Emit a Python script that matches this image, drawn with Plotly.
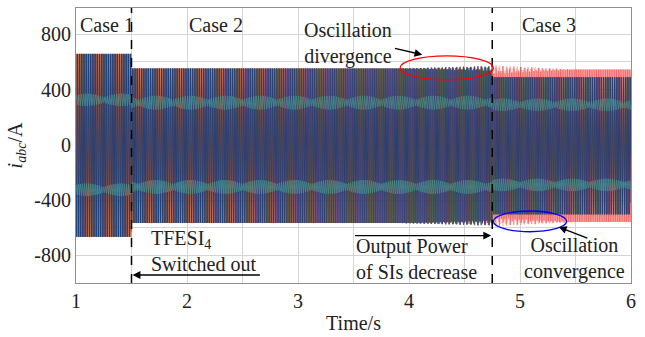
import numpy as np
import plotly.graph_objects as go

# ---------------- data ----------------
case_bounds = [1.0, 1.5, 4.75, 6.0]          # s, switching instants
case_labels = ["Case 1", "Case 2", "Case 3"]
case_label_t = [1.02, 2.26, 5.26]
amp_main = [662, 559, 496]                   # A, peak of the dense three-phase band
amp_red = [662, 559, 552]                    # A, red phase peak (pink band in case 3)
dc_offset = [-4, -7, -7]                     # A
inner_center = [325, 305, 290]               # A, centre of the teal inner band
inner_halfwidth = [45, 50, 45]               # A
div_window = [3.9, 4.75]                     # oscillation divergence
div_depth = 0.035
conv_window = [4.75, 5.5]                    # oscillation convergence
conv_depth = 0.06
phase_freqs = [49.8, 50.0, 50.2, 49.9]       # Hz, red / blue / green / orange
x_ticks = [1, 2, 3, 4, 5, 6]
y_ticks = [-800, -400, 0, 400, 800]
y_tick_text = ["-800", "-400", "0", "400", "800"]

# ---------------- waveforms ----------------
t = np.arange(1.0, 6.0, 0.0002)
idx = np.searchsorted(np.array(case_bounds[1:-1]), t, side="right")
A = np.array(amp_main, float)[idx]
Ar = np.array(amp_red, float)[idx]
off = np.array(dc_offset, float)[idx]

grow = np.clip((t - div_window[0]) / (div_window[1] - div_window[0]), 0, 1)
grow[t >= div_window[1]] = 0
decay = np.clip(1 - (t - conv_window[0]) / (conv_window[1] - conv_window[0]), 0, 1)
decay[t < conv_window[0]] = 0
rip = np.sin(2 * np.pi * 31 * t)
mod_main = 1 + div_depth * grow * rip
mod_red = 1 + div_depth * grow * rip + conv_depth * decay * rip

fr, fb, fg, fo = [2 * np.pi * f for f in phase_freqs]
ia = Ar * mod_red * np.sin(fr * t) + off
ia2 = Ar * mod_red * np.sin(fr * t - 2 * np.pi / 3 + 0.4) + off
ia3 = Ar * mod_red * np.sin(fr * t + 2 * np.pi / 3 + 0.4) + off
ib = A * mod_main * np.sin(fb * t - 2 * np.pi / 3) + off
ic = A * mod_main * np.sin(fg * t + 2 * np.pi / 3) + off
io = A * mod_main * np.sin(fo * t + np.pi / 3 + 0.3) + off

ic_c = np.array(inner_center, float)[idx]
ic_h = np.array(inner_halfwidth, float)[idx]
beat = 0.45 + 0.55 * np.abs(np.sin(2 * np.pi * 1.6 * t))
in_up = ic_c + ic_h * beat * np.sin(2 * np.pi * 47 * t)
in_lo = -ic_c + ic_h * beat * np.sin(2 * np.pi * 53 * t + 1.0)

fig = go.Figure()
fig.add_trace(go.Scatter(x=t, y=ia2, mode="lines", line=dict(color="#ff4a4a", width=1), opacity=0.35))
fig.add_trace(go.Scatter(x=t, y=ia3, mode="lines", line=dict(color="#ff4a4a", width=1), opacity=0.35))
fig.add_trace(go.Scatter(x=t, y=ia, mode="lines", line=dict(color="#e02020", width=1.2), opacity=0.55))
fig.add_trace(go.Scatter(x=t, y=ic, mode="lines", line=dict(color="#0d5e50", width=1), opacity=0.75))
fig.add_trace(go.Scatter(x=t, y=io, mode="lines", line=dict(color="#a0500f", width=1), opacity=0.55))
fig.add_trace(go.Scatter(x=t, y=ib, mode="lines", line=dict(color="#0a3590", width=1), opacity=0.7))
fig.add_trace(go.Scatter(x=t, y=in_up, mode="lines", line=dict(color="#4aa898", width=0.8), opacity=0.7))
fig.add_trace(go.Scatter(x=t, y=in_lo, mode="lines", line=dict(color="#4aa898", width=0.8), opacity=0.7))

FONT = "Liberation Serif, Times New Roman, serif"
fs = 20
TXT = "#222222"

shapes = []
for xb in case_bounds[1:3]:
    shapes.append(dict(type="line", x0=xb, x1=xb, y0=0, y1=1, xref="x", yref="paper",
                       line=dict(color="black", width=1.5, dash="dash")))
shapes.append(dict(type="circle", xref="x", yref="y", x0=3.92, x1=4.76, y0=470, y1=643,
                   line=dict(color="red", width=1.3)))
shapes.append(dict(type="circle", xref="x", yref="y", x0=4.76, x1=5.42, y0=-629, y1=-479,
                   line=dict(color="blue", width=1.3)))

ann = []
ann.append(dict(x=case_label_t[0], y=868, text=case_labels[0], xanchor="left", showarrow=False))
ann.append(dict(x=case_label_t[1], y=868, text=case_labels[1], xanchor="center", showarrow=False))
ann.append(dict(x=case_label_t[2], y=868, text=case_labels[2], xanchor="center", showarrow=False))
ann.append(dict(x=3.45, y=730, text="Oscillation<br>divergence", xanchor="center", showarrow=False))
ann.append(dict(x=4.12, y=652, ax=3.86, ay=701, axref="x", ayref="y", text="", showarrow=True,
                arrowhead=2, arrowsize=1.2, arrowwidth=1.3, arrowcolor="black"))
ann.append(dict(x=5.49, y=-822, text="Oscillation<br>convergence", xanchor="center", showarrow=False))
ann.append(dict(x=5.35, y=-595, ax=5.62, ay=-680, axref="x", ayref="y", text="", showarrow=True,
                arrowhead=2, arrowsize=1.2, arrowwidth=1.3, arrowcolor="black"))
ann.append(dict(x=1.66, y=-772, text="TFESI<sub>4</sub><br>Switched out", xanchor="left",
                align="left", showarrow=False))
ann.append(dict(x=1.51, y=-942, ax=2.67, ay=-942, axref="x", ayref="y", text="", showarrow=True,
                arrowhead=2, arrowsize=1.2, arrowwidth=1.3, arrowcolor="black"))
ann.append(dict(x=3.5, y=-825, text="Output Power<br>of SIs decrease", xanchor="left",
                align="left", showarrow=False))
ann.append(dict(x=4.74, y=-657, ax=3.5, ay=-657, axref="x", ayref="y", text="", showarrow=True,
                arrowhead=2, arrowsize=1.2, arrowwidth=1.3, arrowcolor="black"))
for a in ann:
    a["xref"] = "x"
    a["yref"] = "y"
    a["font"] = dict(family=FONT, size=fs, color=TXT)

fig.update_layout(
    width=645, height=337,
    margin=dict(l=76, r=14, t=7, b=50),
    paper_bgcolor="white", plot_bgcolor="white",
    showlegend=False,
    font=dict(family=FONT, size=fs, color=TXT),
    shapes=shapes, annotations=ann,
)
fig.update_xaxes(range=[1, 6], tickvals=x_ticks, showgrid=True, gridcolor="#d4d4d4",
                 tickfont=dict(family=FONT, size=fs, color=TXT),
                 minor=dict(dtick=0.5, showgrid=True, gridcolor="#d4d4d4"),
                 showline=True, linecolor="#909090", mirror=True, zeroline=False,
                 ticks="", title=dict(text="Time/s", standoff=4,
                                      font=dict(family=FONT, size=fs, color=TXT)))
fig.update_yaxes(range=[-1000, 990], tickvals=y_ticks, ticktext=y_tick_text,
                 showgrid=True, gridcolor="#d4d4d4",
                 tickfont=dict(family=FONT, size=fs, color=TXT),
                 minor=dict(dtick=200, showgrid=True, gridcolor="#d4d4d4"),
                 showline=True, linecolor="#909090", mirror=True, zeroline=False,
                 ticks="", title=dict(text="<i>i</i><sub><i>abc</i></sub>/A", standoff=6,
                                      font=dict(family=FONT, size=fs, color=TXT)))
fig.write_html("out.html")
